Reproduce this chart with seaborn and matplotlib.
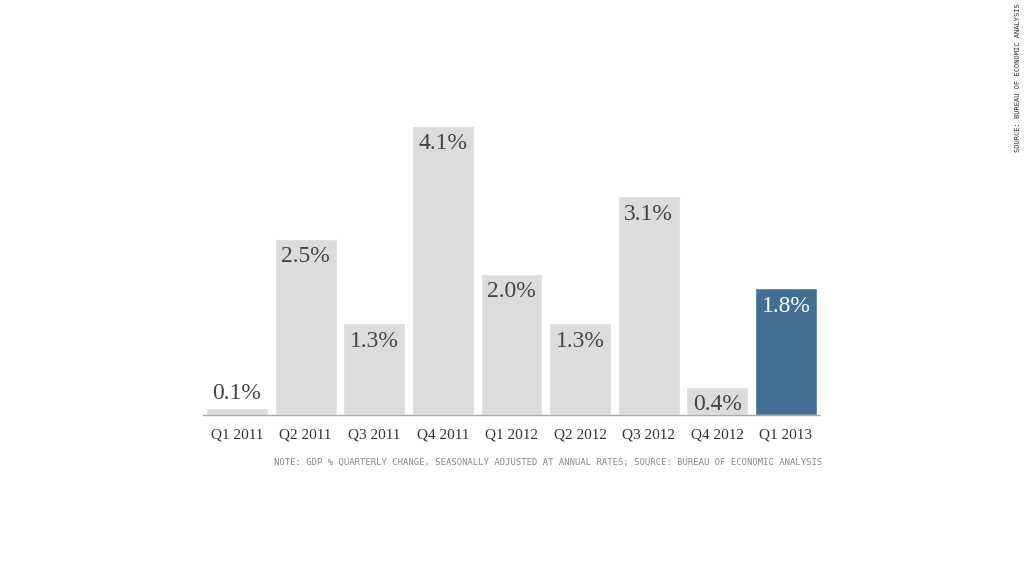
import matplotlib
matplotlib.use("Agg")
import matplotlib.pyplot as plt
import seaborn as sns
import pandas as pd

quarters = ["Q1 2011", "Q2 2011", "Q3 2011", "Q4 2011", "Q1 2012",
            "Q2 2012", "Q3 2012", "Q4 2012", "Q1 2013"]
gdp_change = [0.1, 2.5, 1.3, 4.1, 2.0, 1.3, 3.1, 0.4, 1.8]
highlight = "Q1 2013"

note_text = ("NOTE: GDP % QUARTERLY CHANGE, SEASONALLY ADJUSTED AT ANNUAL RATES; "
             "SOURCE: BUREAU OF ECONOMIC ANALYSIS")
source_text = "SOURCE: BUREAU OF ECONOMIC ANALYSIS"

sns.set_theme(style="white")
plt.rcParams["font.family"] = ["Liberation Serif", "DejaVu Serif"]

df = pd.DataFrame({"quarter": quarters, "change": gdp_change})
gray = "#dcdcdc"
blue = "#426f93"
palette = {q: (blue if q == highlight else gray) for q in quarters}

fig = plt.figure(figsize=(10.24, 5.76), dpi=100)
ax = fig.add_axes([202.7 / 1024, 1 - 415 / 576, 617.6 / 1024, 317.7 / 576])

sns.barplot(data=df, x="quarter", y="change", hue="quarter", palette=palette,
            width=0.9, legend=False, ax=ax, saturation=1)

ax.set_ylim(0, 4.5)
ax.set_xlim(-0.5, len(quarters) - 0.5)
for s in ["top", "right", "left"]:
    ax.spines[s].set_visible(False)
ax.spines["bottom"].set_color("#aaaaaa")
ax.spines["bottom"].set_linewidth(1.0)
ax.set_yticks([])
ax.set_xlabel("")
ax.set_ylabel("")
ax.tick_params(axis="x", length=0, pad=10, labelsize=11, labelcolor="#333333")
for lab in ax.get_xticklabels():
    lab.set_fontfamily(["Liberation Serif", "DejaVu Serif"])

for i, (q, v) in enumerate(zip(quarters, gdp_change)):
    color = "white" if q == highlight else "#444444"
    if v < 0.3:
        ax.annotate(f"{v:.1f}%", xy=(i, v), xytext=(0, 3),
                    textcoords="offset points", ha="center", va="bottom",
                    fontsize=17, color=color)
    else:
        ax.annotate(f"{v:.1f}%", xy=(i, v), xytext=(0, -5.5),
                    textcoords="offset points", ha="center", va="top",
                    fontsize=17, color=color)

fig.text(822 / 1024, 1 - 462 / 576, note_text, ha="right", va="center",
         fontsize=6.4, color="#888888", family="DejaVu Sans Mono")
fig.text(1018 / 1024, 1 - 78 / 576, source_text, ha="center", va="center",
         rotation=90, fontsize=5.0, color="#333333", family="DejaVu Sans Mono")

fig.savefig("out.png", dpi=100)
